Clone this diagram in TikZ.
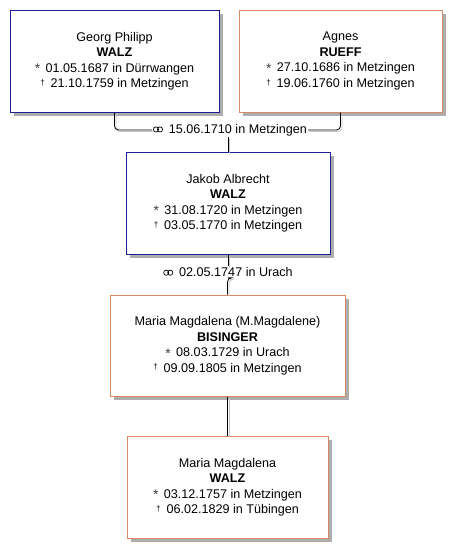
\documentclass[tikz,border=0pt]{standalone}
\usepackage{fontspec}
\setmainfont{Liberation Sans}
\usepackage{tikz}
\usetikzlibrary{shadows}

\definecolor{maleline}{RGB}{30,30,150}
\definecolor{femaleline}{RGB}{214,138,100}
\newcommand\bornmark{\raisebox{-1.6pt}{\fontsize{14}{14}\selectfont\color{black!75}*}\hspace{5.5pt}}
\newcommand\deathmark{\raisebox{2.2pt}{\fontsize{8}{8}\selectfont †}\hspace{6pt}}
\newcommand\marrmark{\tikz[baseline=0pt, line width=0.7pt]{\draw (2.6pt,3.8pt) circle[radius=2.6pt] (6.6pt,3.8pt) circle[radius=2.6pt];}\hspace{6pt}}

\begin{document}
\begin{tikzpicture}[
  x=1pt, y=-1pt,
  font=\fontsize{12.6}{15.5}\selectfont,
  person/.style={draw, line width=1pt, fill=white, align=center, inner sep=0pt,
    drop shadow={shadow xshift=3.5pt, shadow yshift=-3.5pt, fill=black!32, opacity=1}},
  male/.style={person, draw=maleline},
  female/.style={person, draw=femaleline},
  marr/.style={inner sep=1pt, fill=white},
  link/.style={line width=0.8pt, rounded corners=4pt,
    preaction={draw=black!22, line width=0.8pt, transform canvas={shift={(1.5pt,-1.5pt)}}}}
]
\useasboundingbox (0,0) rectangle (462,558);
% parents
\node[male, minimum width=209pt, minimum height=102pt] (p1) at (114.5,61)
  {Georg Philipp\\\textbf{WALZ}\\\bornmark 01.05.1687 in Dürrwangen\\\deathmark 21.10.1759 in Metzingen};
\node[female, minimum width=203pt, minimum height=102pt] (p2) at (340.5,61)
  {Agnes\\\textbf{RUEFF}\\\bornmark 27.10.1686 in Metzingen\\\deathmark 19.06.1760 in Metzingen};
\node[marr] (m1) at (230,130) {\marrmark 15.06.1710 in Metzingen};
% son and wife
\node[male, minimum width=204pt, minimum height=102pt] (c1) at (228,203)
  {Jakob Albrecht\\\textbf{WALZ}\\\bornmark 31.08.1720 in Metzingen\\\deathmark 03.05.1770 in Metzingen};
\node[marr] (m2) at (228,272) {\marrmark 02.05.1747 in Urach};
\node[female, minimum width=235pt, minimum height=101pt] (w1) at (227.5,345.5)
  {Maria Magdalena (M.Magdalene)\\\textbf{BISINGER}\\\bornmark 08.03.1729 in Urach\\\deathmark 09.09.1805 in Metzingen};
% daughter
\node[female, minimum width=201pt, minimum height=102pt] (d1) at (227.5,487)
  {Maria Magdalena\\\textbf{WALZ}\\\bornmark 03.12.1757 in Metzingen\\\deathmark 06.02.1829 in Tübingen};
\draw[link] (p1.south) |- (m1.west);
\draw[link] (p2.south) |- (m1.east);
\draw[link] (m1.south -| c1.north) -- (c1.north);
\draw[link] (c1.south) -- (m2.north -| c1.south);
\draw[link] (m2.south -| c1.south) -- (m2.south -| w1.north) -- (w1.north);
\draw[link] (w1.south) -- (d1.north);
\end{tikzpicture}
\end{document}
